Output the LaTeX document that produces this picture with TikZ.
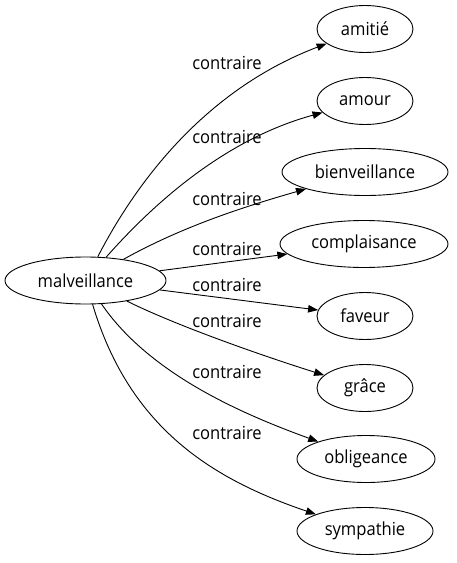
\documentclass[tikz,border=0pt]{standalone}
\usepackage{fontspec}
\setmainfont{Open Sans}[FakeStretch=0.92]
\usetikzlibrary{shapes.geometric,arrows.meta}
\begin{document}
\begin{tikzpicture}[x=1pt,y=-1pt,
  every node/.style={font=\fontsize{18}{21}\selectfont},
  term/.style={draw,ellipse,line width=0.9pt,inner sep=0pt,minimum height=47pt},
  lab/.style={inner sep=0pt},
  edge/.style={line width=0.9pt,-{Triangle[length=10pt,width=7.5pt]}}]
\useasboundingbox (0,0) rectangle (456,563);
\node[term,minimum width=161pt] (m) at (85.5,280.5) {malveillance};
\node[term,minimum width=96pt] (a1) at (365,29) {amitié};
\node[term,minimum width=96pt] (a2) at (365,101) {amour};
\node[term,minimum width=166pt] (a3) at (365,172) {bienveillance};
\node[term,minimum width=168pt] (a4) at (364,244) {complaisance};
\node[term,minimum width=96pt] (a5) at (365,316) {faveur};
\node[term,minimum width=96pt] (a6) at (365,388) {grâce};
\node[term,minimum width=138pt] (a7) at (366,459) {obligeance};
\node[term,minimum width=136pt] (a8) at (365,531) {sympathie};
\draw[edge] (m) .. controls (140,175) and (210,88) .. (a1);
\draw[edge] (m) .. controls (170,185) and (240,135) .. (a2);
\draw[edge] (m) .. controls (185,225) and (250,205) .. (a3);
\draw[edge] (m) -- (a4);
\draw[edge] (m) -- (a5);
\draw[edge] (m) .. controls (175,325) and (260,355) .. (a6);
\draw[edge] (m) .. controls (150,375) and (245,415) .. (a7);
\draw[edge] (m) .. controls (130,430) and (215,480) .. (a8);
\node[lab] (l1) at (227,63) {contraire};
\node[lab] (l2) at (227,137) {contraire};
\node[lab] (l3) at (227,199) {contraire};
\node[lab] (l4) at (227,249) {contraire};
\node[lab] (l5) at (227,285) {contraire};
\node[lab] (l6) at (227,321) {contraire};
\node[lab] (l7) at (227,372) {contraire};
\node[lab] (l8) at (227,433) {contraire};
\end{tikzpicture}
\end{document}
